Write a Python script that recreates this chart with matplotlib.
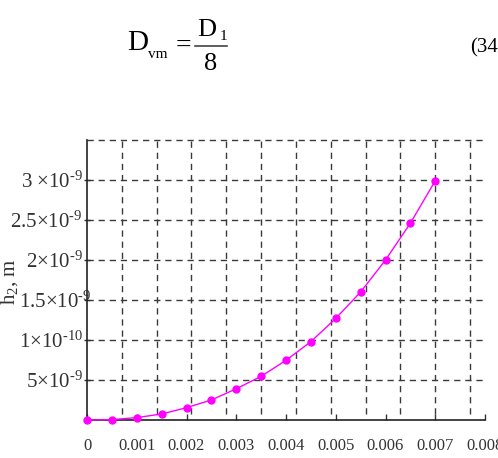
import numpy as np
import matplotlib
matplotlib.use("Agg")
from matplotlib import pyplot as plt
from matplotlib.lines import Line2D
from matplotlib.transforms import ScaledTranslation

plt.rcParams['font.family'] = ['Liberation Serif', 'DejaVu Serif']
plt.rcParams['mathtext.fontset'] = 'custom'
plt.rcParams['mathtext.rm'] = 'Liberation Serif'
plt.rcParams['mathtext.it'] = 'Liberation Serif:italic'

# data
x_vals = [0, 0.0005, 0.001, 0.0015, 0.002, 0.0025, 0.003, 0.0035,
          0.004, 0.0045, 0.005, 0.0055, 0.006, 0.0065, 0.007]
h2_vals = [0.0, 0.005e-9, 0.03e-9, 0.075e-9, 0.154e-9, 0.25e-9, 0.39e-9, 0.546e-9,
           0.746e-9, 0.979e-9, 1.27e-9, 1.6e-9, 2.0e-9, 2.46e-9, 2.99e-9]
x_ticks = [0, 0.001, 0.002, 0.003, 0.004, 0.005, 0.006, 0.007, 0.008]
x_tick_labels = ["0", "0.001", "0.002", "0.003", "0.004", "0.005", "0.006", "0.007", "0.008"]
y_ticks = [0.5e-9, 1.0e-9, 1.5e-9, 2.0e-9, 2.5e-9, 3.0e-9]
y_tick_labels = ["$5{\\times}10^{\u20109}$", "$1{\\times}10^{\u201010}$", "$1.5{\\times}10^{\u20109}$",
                 "$2{\\times}10^{\u20109}$", "$2.5{\\times}10^{\u20109}$", "$3\\ {\\times}10^{\u20109}$"]

W, H = 498, 458
fig = plt.figure(figsize=(W / 100, H / 100), dpi=100)

def px(x, y):
    return x / W, 1 - y / H

ax = fig.add_axes([87 / W, 38 / H, 398 / W, 280 / H])
ax.set_xlim(0, 0.008)
ax.set_ylim(0, 3.5e-9)

# dashed grid (vertical grid is not tied to the ticks in the original)
grid_col = '#3a3a3a'
dash = (0, (4.5, 3.5))
for gx in np.arange(1, 12) * 0.0007:
    ax.plot([gx, gx], [0.08e-9, 3.5e-9], color=grid_col, lw=1.0, linestyle=dash, zorder=1)
for gy in [0.5e-9, 1.0e-9, 1.5e-9, 2.0e-9, 2.5e-9, 3.0e-9, 3.5e-9]:
    ax.plot([0, 0.00797], [gy, gy], color=grid_col, lw=1.0, linestyle=dash, zorder=1,
            clip_on=False)

ax.plot(x_vals, h2_vals, color='#ff00ff', lw=1.0, marker='o', ms=5, zorder=3,
        clip_on=False)

ax.spines['top'].set_visible(False)
ax.spines['right'].set_visible(False)
ax.spines['left'].set_linewidth(1.2)
ax.spines['bottom'].set_linewidth(1.2)
ax.spines['left'].set_color('#222222')
ax.spines['bottom'].set_color('#222222')

ax.set_xticks(x_ticks)
ax.set_xticklabels(x_tick_labels, fontsize=12, color='#333333')
ax.tick_params(axis='x', direction='in', length=4, width=1, pad=13, colors='#333333')
ax.set_yticks(y_ticks)
ax.set_yticklabels(y_tick_labels, fontsize=15, color='#333333')
ax.tick_params(axis='y', direction='inout', length=4, width=1, pad=1, colors='#333333')

# the 1.5 label sits further right in the original, its exponent over the axis
lab15 = ax.get_yticklabels()[2]
lab15.set_transform(lab15.get_transform() + ScaledTranslation(9 / 100, 0, fig.dpi_scale_trans))

fig.text(*px(10, 282), r"h$_2$, m", rotation=90, fontsize=15, color='#333333',
         ha='center', va='center')

# equation above the chart
fig.text(*px(138, 43), "D", fontsize=21, ha='center', va='center')
fig.text(*px(158, 55), "vm", fontsize=11, ha='center', va='center')
fig.text(*px(183, 46), "=", fontsize=20, ha='center', va='center')
fig.text(*px(207, 30), "D", fontsize=19, ha='center', va='center')
fig.text(*px(223, 36), "1", fontsize=11, ha='center', va='center')
fig.text(*px(211, 64), "8", fontsize=19, ha='center', va='center')
bx0, by = px(195, 46)
bx1, _ = px(227, 46)
fig.add_artist(Line2D([bx0, bx1], [by, by], color='#333333', lw=1.1))
fig.text(*px(470, 48), "(34)", fontsize=15, ha='left', va='center')

fig.savefig("out.png", dpi=100)
